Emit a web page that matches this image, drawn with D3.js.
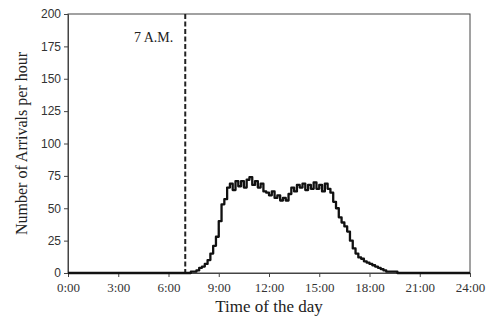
<!DOCTYPE html>
<html>
<head>
<meta charset="utf-8">
<script src="https://cdn.jsdelivr.net/npm/d3@7"></script>
<style>
  body { margin: 0; background: #fff; }
  svg { display: block; }
</style>
</head>
<body>
<svg id="chart" width="489" height="320"></svg>
<script>
// arrivals per hour, sampled every 10 minutes from 7:00 to 20:00
const startHour = 7
const stepMinutes = 10
const arrivals = [
  0, 0, 1, 1, 2, 4,          // 7:00
  5, 7, 10, 15, 21, 28,      // 8:00
  40, 53, 57, 66, 69, 64,    // 9:00
  71, 67, 71, 66, 72, 74,    // 10:00
  68, 71, 66, 69, 63, 62,    // 11:00
  60, 63, 58, 60, 56, 58,    // 12:00
  56, 61, 66, 63, 68, 66,    // 13:00
  69, 64, 68, 65, 70, 65,    // 14:00
  68, 63, 69, 65, 62, 55,    // 15:00
  50, 43, 39, 36, 32, 25,    // 16:00
  19, 15, 12, 11, 9, 8,      // 17:00
  7, 6, 5, 4, 3, 2,          // 18:00
  1, 1, 1, 1, 0, 0,          // 19:00
  0                          // 20:00
]
const xTicks = [0, 3, 6, 9, 12, 15, 18, 21, 24]
const yTicks = [0, 25, 50, 75, 100, 125, 150, 175, 200]
const markerHour = 7
const markerLabel = '7 A.M.'
const xLabel = 'Time of the day'
const yLabel = 'Number of Arrivals per hour'

const width = 489
const height = 320
const marginLeft = 68
const marginRight = 19
const marginTop = 14
const marginBottom = 47
const boundWidth = width - marginLeft - marginRight
const boundHeight = height - marginTop - marginBottom

const series = [{ h: 0, v: 0 }]
  .concat(arrivals.map((v, i) => ({ h: startHour + i * stepMinutes / 60, v })))
  .concat([{ h: 24, v: 0 }])

const svg = d3.select('#chart')
const bounds = svg.append('g')
  .attr('transform', `translate(${marginLeft},${marginTop})`)

const x = d3.scaleLinear().domain([0, 24]).range([0, boundWidth])
const y = d3.scaleLinear().domain([0, 200]).range([boundHeight, 0])

// frame
bounds.append('rect')
  .attr('width', boundWidth)
  .attr('height', boundHeight)
  .attr('fill', 'none')
  .attr('stroke', '#444')
  .attr('stroke-width', 1)

// axes
const xAxis = bounds.append('g')
  .attr('transform', `translate(0,${boundHeight})`)
  .call(d3.axisBottom(x).tickValues(xTicks).tickSizeOuter(0).tickSize(4)
    .tickFormat(d => `${d}:00`))
xAxis.selectAll('text')
  .attr('font-family', '"Liberation Serif", "Times New Roman", serif')
  .attr('font-size', 13)
  .attr('fill', '#333')
  .attr('dy', '0.95em')

const yAxis = bounds.append('g')
  .call(d3.axisLeft(y).tickValues(yTicks).tickSizeOuter(0).tickSize(4))
yAxis.selectAll('text')
  .attr('font-family', '"Liberation Sans", Arial, sans-serif')
  .attr('font-size', 12)
  .attr('fill', '#333')
  .attr('x', -7)

svg.selectAll('.domain, .tick line').attr('stroke', '#444')

// 7 A.M. marker
bounds.append('line')
  .attr('x1', x(markerHour))
  .attr('x2', x(markerHour))
  .attr('y1', 0)
  .attr('y2', boundHeight)
  .attr('stroke', '#222')
  .attr('stroke-width', 2)
  .attr('stroke-dasharray', '5,2.5')

bounds.append('text')
  .attr('x', x(markerHour) - 12)
  .attr('y', 28)
  .attr('text-anchor', 'end')
  .attr('font-family', '"Liberation Serif", "Times New Roman", serif')
  .attr('font-size', 14)
  .attr('fill', '#222')
  .text(markerLabel)

// arrivals curve
const line = d3.line()
  .x(d => x(d.h))
  .y(d => y(d.v))
  .curve(d3.curveStepAfter)

bounds.append('path')
  .datum(series)
  .attr('fill', 'none')
  .attr('stroke', '#111')
  .attr('stroke-width', 2.3)
  .attr('stroke-linejoin', 'round')
  .attr('d', line)

// axis labels
svg.append('text')
  .attr('x', marginLeft + boundWidth / 2)
  .attr('y', 312)
  .attr('text-anchor', 'middle')
  .attr('font-family', '"Liberation Serif", "Times New Roman", serif')
  .attr('font-size', 17)
  .attr('fill', '#222')
  .text(xLabel)

svg.append('text')
  .attr('transform', `translate(27,${marginTop + boundHeight / 2}) rotate(-90)`)
  .attr('text-anchor', 'middle')
  .attr('font-family', '"Liberation Serif", "Times New Roman", serif')
  .attr('font-size', 16)
  .attr('fill', '#222')
  .text(yLabel)
</script>
</body>
</html>
